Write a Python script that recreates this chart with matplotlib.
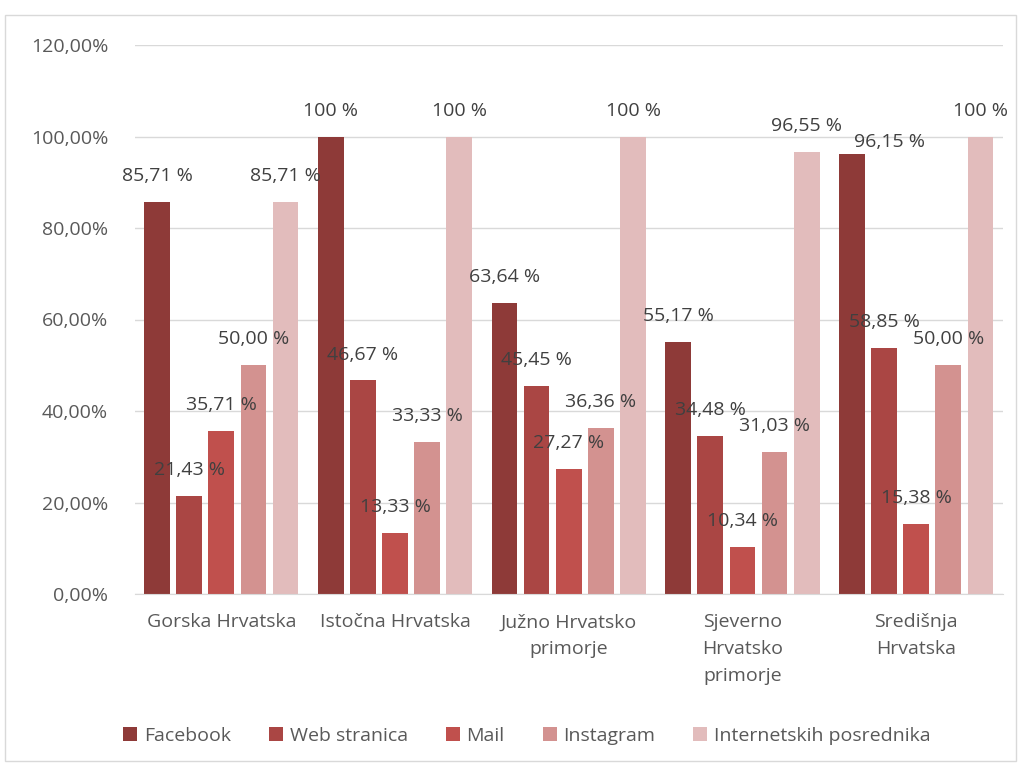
import matplotlib
matplotlib.use("Agg")
import matplotlib.pyplot as plt
from matplotlib.patches import Rectangle
import numpy as np

plt.rcParams['font.family'] = ['Open Sans', 'DejaVu Sans']

categories = ["Gorska Hrvatska", "Istočna Hrvatska", "Južno Hrvatsko\nprimorje",
              "Sjeverno\nHrvatsko\nprimorje", "Središnja\nHrvatska"]
series_names = ["Facebook", "Web stranica", "Mail", "Instagram", "Internetskih posrednika"]
facebook = [85.71, 100.0, 63.64, 55.17, 96.15]
web = [21.43, 46.67, 45.45, 34.48, 53.85]
mail = [35.71, 13.33, 27.27, 10.34, 15.38]
instagram = [50.00, 33.33, 36.36, 31.03, 50.00]
internet = [85.71, 100.0, 100.0, 96.55, 100.0]
label_facebook = ["85,71 %", "100 %", "63,64 %", "55,17 %", "96,15 %"]
label_web = ["21,43 %", "46,67 %", "45,45 %", "34,48 %", "58,85 %"]
label_mail = ["35,71 %", "13,33 %", "27,27 %", "10,34 %", "15,38 %"]
label_instagram = ["50,00 %", "33,33 %", "36,36 %", "31,03 %", "50,00 %"]
label_internet = ["85,71 %", "100 %", "100 %", "96,55 %", "100 %"]
yticks = [0, 20, 40, 60, 80, 100, 120]
ytick_labels = ["0,00%", "20,00%", "40,00%", "60,00%", "80,00%", "100,00%", "120,00%"]

colors = ["#8E3A38", "#AA4644", "#C0504D", "#D39290", "#E2BCBC"]
series = [facebook, web, mail, instagram, internet]
labels = [label_facebook, label_web, label_mail, label_instagram, label_internet]

FS = 14

fig = plt.figure(figsize=(10.19, 7.64), dpi=100)
ax = fig.add_axes([134.5/1019, 1-594/764, (1003-134.5)/1019, (594-45)/764])

# chart border
fig.patches.append(Rectangle((5/1019, 3/764), 1011/1019, (764-18)/764, transform=fig.transFigure,
                             fill=False, edgecolor="#D9D9D9", linewidth=1))

x = np.arange(len(categories))
step = 0.185
width = 0.148
# (series index, category index) -> (dx px, dy px) label nudges as in the reference
nudges = {(0, 4): (38, -14)}
for i, (vals, lab, c, name) in enumerate(zip(series, labels, colors, series_names)):
    pos = x + (i - 2) * step
    ax.bar(pos, vals, width=width, color=c, label=name, zorder=2)
    for j, (p, v, t) in enumerate(zip(pos, vals, lab)):
        dx, dy = nudges.get((i, j), (0, 0))
        ax.annotate(t, (p, v), xytext=(dx * 0.72, 18.7 + dy * 0.72), textcoords="offset points",
                    ha="center", va="center", fontsize=FS, color="#404040", zorder=3)

ax.set_xlim(-0.5, 4.5)
ax.set_ylim(0, 120)
ax.set_yticks(yticks)
ax.set_yticklabels(ytick_labels)
ax.set_xticks(x)
ax.set_xticklabels(categories, linespacing=1.62)
ax.yaxis.grid(True, color="#D9D9D9", linewidth=1, zorder=0)
ax.set_axisbelow(True)
for s in ["top", "right", "left"]:
    ax.spines[s].set_visible(False)
ax.spines["bottom"].set_color("#D9D9D9")
ax.tick_params(axis="both", length=0, labelsize=FS, colors="#595959")
ax.tick_params(axis="y", pad=19)
ax.tick_params(axis="x", pad=14)

leg = fig.legend(loc="center", bbox_to_anchor=(527/1019, 1-736/764), ncol=5, frameon=False,
                 fontsize=FS, handlelength=0.72, handleheight=0.72, handletextpad=0.35,
                 columnspacing=1.95, labelcolor="#595959")

fig.savefig("out.png", dpi=100)
